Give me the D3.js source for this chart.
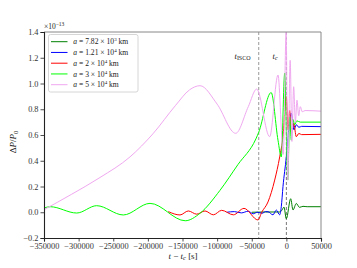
<!DOCTYPE html>
<html>
<head>
<meta charset="utf-8">
<script src="https://cdn.jsdelivr.net/npm/d3@7"></script>
<style>
  body { margin: 0; background: #fff; }
  text { font-family: "Liberation Serif", "DejaVu Serif", serif; }
</style>
</head>
<body>
<div class="canvas"></div>
<script>
// values (t - t_c in s, dP/P0 in units of 1e-13)
var xTicks = [-350000, -300000, -250000, -200000, -150000, -100000, -50000, 0, 50000];
var yTicks = [-0.2, 0.0, 0.2, 0.4, 0.6, 0.8, 1.0, 1.2, 1.4];
var tIsco = -40000;
var tC = 0;

var darkGreen = [[-50000, 0.0], [-30000, 0.002], [-10000, 0.002], [-7000, 0.012], [-3440, 0.04],
  [-110, -0.05], [6240, 0.105], [9560, 0.018], [14320, 0.068], [19000, 0.038], [24000, 0.046], [30000, 0.043], [50000, 0.043]];

var blue = [[-86000, 0.0], [-75000, 0.005], [-65000, -0.005], [-55000, 0.008], [-48000, -0.012],
  [-42000, 0.0], [-35000, -0.008], [-30000, 0.005], [-26540, 0.004], [-19320, -0.02], [-14500, 0.017],
  [-9650, -0.02], [-7340, 0.043], [-4880, 0.2], [-110, 0.43], [3350, 0.64], [7110, 0.77], [11000, 0.64],
  [14320, 0.68], [18000, 0.66], [22000, 0.667], [50000, 0.665]];

var red = [[-170500, 0.005], [-153600, -0.021], [-141600, 0.01], [-129500, -0.015], [-117500, 0.01],
  [-105500, -0.02], [-93400, 0.015], [-76600, -0.02], [-61200, 0.03], [-41000, -0.06], [-35600, 0.0],
  [-26540, 0.08], [-16870, 0.25], [-9650, 0.43], [-4880, 0.59], [-110, 0.9], [2340, 0.64], [4800, 0.79],
  [7110, 0.615], [10570, 0.69], [14320, 0.587], [18000, 0.612], [22000, 0.603], [50000, 0.605]];

var lime = [[-350000, 0.033], [-341000, 0.043], [-302800, -0.006], [-273900, 0.051], [-235500, -0.021],
  [-196900, 0.069], [-146000, -0.066], [-124700, -0.008], [-95900, 0.17], [-70000, 0.37], [-44000, 0.57],
  [-40000, 0.62], [-22000, 0.93], [-12100, 0.56], [-7340, 0.43], [-2420, 1.08], [2000, 0.25], [4800, 0.74],
  [7110, 0.56], [9560, 0.72], [12000, 0.68], [15000, 0.71], [20000, 0.70], [50000, 0.70]];

var pink = [[-350000, 0.02], [-310000, 0.14], [-269100, 0.27], [-225800, 0.43], [-192600, 0.61],
  [-160000, 0.83], [-140000, 0.95], [-124700, 0.983], [-100000, 0.84], [-73200, 0.613], [-55000, 0.82],
  [-42900, 0.957], [-24100, 0.587], [-12100, 1.066], [-4500, 0.45], [-300, 1.40], [2000, 0.25],
  [5500, 1.18], [8000, 0.55], [10500, 0.975], [13000, 0.70], [15300, 0.87], [17800, 0.75], [20100, 0.82],
  [23000, 0.78], [27000, 0.79], [50000, 0.785]];

var seriesNames = ["7.82", "1.21", "2", "3", "5"];
var seriesExp = ["3", "4", "4", "4", "4"];
var seriesColors = ["#008000", "#0000ff", "#ff0000", "#00ff00", "#f0a8f0"];
var seriesData = [darkGreen, blue, red, lime, pink];

var svg = d3.select(".canvas").append("svg").attr("width", 357).attr("height", 268);

var plot = { 'left': 44, 'right': 321, 'top': 32, 'bottom': 238 };

var x = d3.scaleLinear().domain([-350000, 50000]).range([plot.left, plot.right]);
var y = d3.scaleLinear().domain([-0.2, 1.4]).range([plot.bottom, plot.top]);

var minus = function (d) { return d < 0 ? "\u2212" + Math.abs(d) : "" + d; };

svg.append("clipPath").attr("id", "clip")
  .append("rect")
  .attr("x", plot.left).attr("y", plot.top)
  .attr("width", plot.right - plot.left).attr("height", plot.bottom - plot.top);

var graph = svg.append("g").attr("clip-path", "url(#clip)");

// vertical markers
graph.append("line")
  .attr("x1", x(tIsco)).attr("x2", x(tIsco))
  .attr("y1", plot.top).attr("y2", plot.bottom)
  .attr("stroke", "#aaa").attr("stroke-width", 1.2)
  .attr("stroke-dasharray", "3,2");

graph.append("line")
  .attr("x1", x(tC)).attr("x2", x(tC))
  .attr("y1", plot.top).attr("y2", plot.bottom)
  .attr("stroke", "#555").attr("stroke-width", 0.8)
  .attr("stroke-dasharray", "3,2");

var line = d3.line()
  .x(function (d) { return x(d[0]); })
  .y(function (d) { return y(d[1]); })
  .curve(d3.curveMonotoneX);

for (var i = 0; i < seriesData.length; i++) {
  graph.append("path")
    .attr("d", line(seriesData[i]))
    .attr("fill", "none")
    .attr("stroke", seriesColors[i])
    .attr("stroke-width", 1);
}

// spines
svg.append("line").attr("x1", plot.left).attr("x2", plot.right).attr("y1", plot.top).attr("y2", plot.top)
  .attr("stroke", "#888").attr("stroke-width", 1);
svg.append("line").attr("x1", plot.right).attr("x2", plot.right).attr("y1", plot.top).attr("y2", plot.bottom)
  .attr("stroke", "#888").attr("stroke-width", 1);

// axes
var xAxis = svg.append("g")
  .attr("transform", "translate(0," + plot.bottom + ")")
  .call(d3.axisBottom(x).tickValues(xTicks).tickSize(3.5).tickPadding(2).tickFormat(minus));

var yAxis = svg.append("g")
  .attr("transform", "translate(" + plot.left + ",0)")
  .call(d3.axisLeft(y).tickValues(yTicks).tickSize(3.5).tickPadding(2)
    .tickFormat(function (d) { return minus(d3.format(".1f")(d)).replace("-", "\u2212"); }));

[xAxis, yAxis].forEach(function (a) {
  a.selectAll("path").attr("stroke", "#222").attr("stroke-width", 1.1);
  a.selectAll("line").attr("stroke", "#222").attr("stroke-width", 0.8);
  a.selectAll("text").attr("font-family", "Liberation Serif").attr("font-size", "8.3px").attr("fill", "#333");
});

// offset text
var off = svg.append("text").attr("x", 44).attr("y", 28.5).attr("font-size", "7.5px").attr("fill", "#222");
off.append("tspan").text("\u00d710");
off.append("tspan").attr("dy", -3).attr("font-size", "5.5px").text("\u221213");

// axis labels
var xl = svg.append("text").attr("x", 183).attr("y", 258.5).attr("text-anchor", "middle")
  .attr("font-size", "9px").attr("fill", "#222");
xl.append("tspan").attr("font-style", "italic").text("t");
xl.append("tspan").text(" \u2212 ");
xl.append("tspan").attr("font-style", "italic").text("t");
xl.append("tspan").attr("font-style", "italic").attr("font-size", "6.5px").attr("dy", 1.5).text("c");
xl.append("tspan").attr("dy", -1.5).text(" [s]");

var yl = svg.append("text").attr("transform", "translate(16,142) rotate(-90)").attr("text-anchor", "middle")
  .attr("font-size", "9px").attr("fill", "#222");
yl.append("tspan").text("\u0394");
yl.append("tspan").attr("font-style", "italic").text("P");
yl.append("tspan").text("/");
yl.append("tspan").attr("font-style", "italic").text("P");
yl.append("tspan").attr("font-size", "6.5px").attr("dy", 1.5).text("0");

// marker labels
var li = svg.append("text").attr("x", 234.5).attr("y", 58.5).attr("font-size", "8.5px").attr("fill", "#222");
li.append("tspan").attr("font-style", "italic").text("t");
li.append("tspan").attr("font-size", "6px").attr("dy", 1.5).text("ISCO");

var lc = svg.append("text").attr("x", 272.5).attr("y", 58.5).attr("font-size", "8.5px").attr("fill", "#222");
lc.append("tspan").attr("font-style", "italic").text("t");
lc.append("tspan").attr("font-style", "italic").attr("font-size", "6px").attr("dy", 1.5).text("c");

// legend
var legend = svg.append("g");
legend.append("rect")
  .attr("x", 48.5).attr("y", 34.5).attr("width", 89.5).attr("height", 57.5)
  .attr("rx", 2).attr("fill", "#fff").attr("fill-opacity", 0.8)
  .attr("stroke", "#ccc").attr("stroke-width", 0.8);

for (var j = 0; j < seriesNames.length; j++) {
  var ly = 41.7 + j * 10.75;
  legend.append("line")
    .attr("x1", 51).attr("x2", 67.5).attr("y1", ly).attr("y2", ly)
    .attr("stroke", seriesColors[j]).attr("stroke-width", 1);
  var t = legend.append("text").attr("x", 73.3).attr("y", ly + 2.6).attr("font-size", "7.6px").attr("fill", "#222");
  t.append("tspan").attr("font-style", "italic").text("a");
  t.append("tspan").text(" = " + seriesNames[j] + " \u00d7 10");
  t.append("tspan").attr("font-size", "5px").attr("dy", -3).text(seriesExp[j]);
  t.append("tspan").attr("dy", 3).text(" km");
}
</script>
</body>
</html>
